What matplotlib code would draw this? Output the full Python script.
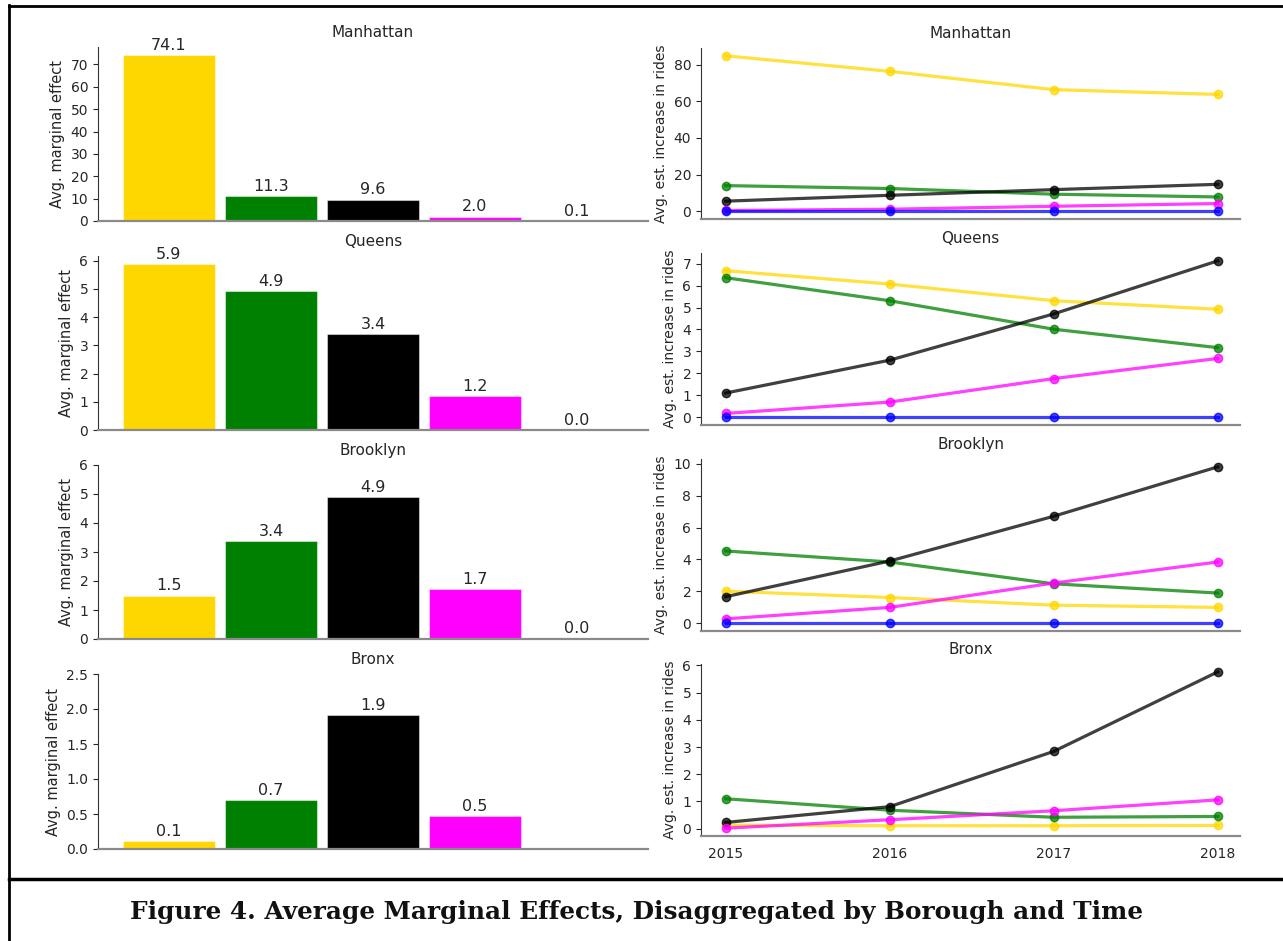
import numpy as np
import matplotlib
matplotlib.use("Agg")
import matplotlib.pyplot as plt
from matplotlib.lines import Line2D
from matplotlib.ticker import MultipleLocator

# ---------------- data ----------------
boroughs = ["Manhattan", "Queens", "Brooklyn", "Bronx"]
series_colors = ["#FFD700", "#008000", "#000000", "#FF00FF", "#0000FF"]

# Average marginal effect per category (bars)
bar_manhattan = [74.1, 11.3, 9.6, 2.0, 0.1]
bar_queens = [5.87, 4.93, 3.41, 1.19, 0.0]
bar_brooklyn = [1.50, 3.38, 4.90, 1.71, 0.02]
bar_bronx = [0.11, 0.70, 1.91, 0.47, np.nan]
bar_ylim_top = [77.8, 6.16, 6.0, 2.5]
bar_tick_step = [10, 1, 1, 0.5]

years = [2015, 2016, 2017, 2018]
# Avg. est. increase in rides, per series (gold, green, black, magenta, blue)
line_manhattan = [
    [84.9, 76.4, 66.4, 63.8],
    [14.0, 12.4, 9.3, 7.8],
    [5.5, 8.7, 11.8, 14.7],
    [0.4, 1.1, 2.7, 4.2],
    [0.0, 0.0, 0.0, 0.0],
]
line_queens = [
    [6.68, 6.07, 5.31, 4.92],
    [6.36, 5.31, 4.01, 3.17],
    [1.10, 2.60, 4.71, 7.13],
    [0.17, 0.69, 1.76, 2.68],
    [0.0, 0.0, 0.0, 0.0],
]
line_brooklyn = [
    [2.01, 1.61, 1.13, 0.99],
    [4.53, 3.84, 2.47, 1.89],
    [1.66, 3.90, 6.71, 9.81],
    [0.27, 0.99, 2.52, 3.84],
    [0.0, 0.0, 0.0, 0.0],
]
line_bronx = [
    [0.13, 0.11, 0.11, 0.12],
    [1.10, 0.68, 0.42, 0.45],
    [0.23, 0.81, 2.84, 5.76],
    [0.02, 0.33, 0.66, 1.06],
    [np.nan, np.nan, np.nan, np.nan],
]
line_tick_step = [20, 1, 2, 1]

bars_all = [bar_manhattan, bar_queens, bar_brooklyn, bar_bronx]
lines_all = [line_manhattan, line_queens, line_brooklyn, line_bronx]

caption = "Figure 4. Average Marginal Effects, Disaggregated by Borough and Time"

# ---------------- layout (pixels) ----------------
W, H = 1283, 941
left_x = (98, 648)
right_x = (701, 1240)
left_rows = [(47, 221), (256, 430), (465, 639), (674, 849)]
right_rows = [(48, 219), (253, 425), (459, 631), (664, 836)]

plt.rcParams["font.family"] = ["DejaVu Sans"]
fig = plt.figure(figsize=(W / 100, H / 100), dpi=100)
fig.patch.set_facecolor("white")

def ax_at(xr, yr):
    return fig.add_axes([xr[0] / W, 1 - yr[1] / H, (xr[1] - xr[0]) / W, (yr[1] - yr[0]) / H])

tick_color = "#262626"

def style(ax):
    ax.spines["top"].set_visible(False)
    ax.spines["right"].set_visible(False)
    ax.spines["left"].set_color("#333333")
    ax.spines["left"].set_linewidth(0.8)
    ax.spines["bottom"].set_color("#8a8a8a")
    ax.spines["bottom"].set_linewidth(1.6)
    ax.tick_params(axis="y", labelsize=10, colors=tick_color, length=3.5, width=0.8)
    ax.set_facecolor("white")

for i, name in enumerate(boroughs):
    # bar chart
    ax = ax_at(left_x, left_rows[i])
    style(ax)
    vals = bars_all[i]
    xs = np.arange(len(vals))
    plot_vals = [0 if np.isnan(v) else v for v in vals]
    ax.bar(xs, plot_vals, width=0.9, color=series_colors,
           edgecolor=(1, 1, 1, 0.45), linewidth=0.8)
    for x, v in zip(xs, vals):
        if not np.isnan(v):
            ax.annotate(f"{v:.1f}", (x, v), xytext=(0, 1.5), textcoords="offset points",
                        ha="center", va="bottom", fontsize=11.5, color=tick_color)
    ax.set_ylim(0, bar_ylim_top[i])
    ax.yaxis.set_major_locator(MultipleLocator(bar_tick_step[i]))
    ax.set_xticks([])
    ax.set_ylabel("Avg. marginal effect", fontsize=10.5, color=tick_color)
    ax.set_title(name, fontsize=11, color=tick_color, pad=7)

    # line chart
    ax2 = ax_at(right_x, right_rows[i])
    style(ax2)
    for s, c in zip(lines_all[i], series_colors):
        ax2.plot(years, s, color=c, alpha=0.75, lw=2.3, marker="o", markersize=6)
    ax2.set_xticks(years)
    ax2.set_xlim(years[0] - 0.15, years[-1] + 0.135)
    ax2.yaxis.set_major_locator(MultipleLocator(line_tick_step[i]))
    if i == len(boroughs) - 1:
        ax2.tick_params(axis="x", labelsize=10, colors=tick_color, length=0, pad=8)
    else:
        ax2.tick_params(axis="x", labelbottom=False, length=0)
    ax2.set_ylabel("Avg. est. increase in rides", fontsize=10, color=tick_color)
    ax2.set_title(name, fontsize=11, color=tick_color, pad=7)

# frame lines
fig.add_artist(Line2D([8.5 / W, 8.5 / W], [0, 1 - 5 / H], transform=fig.transFigure,
                      color="black", lw=2))
fig.add_artist(Line2D([8.5 / W, 1], [1 - 5.5 / H, 1 - 5.5 / H], transform=fig.transFigure,
                      color="black", lw=2))
fig.add_artist(Line2D([8.5 / W, 1], [1 - 879 / H, 1 - 879 / H], transform=fig.transFigure,
                      color="black", lw=2.5))

fig.text(636 / W, 1 - 912 / H, caption, ha="center", va="center",
         fontsize=17.8, fontweight="bold", family=["DejaVu Serif"], color="#111111")

fig.savefig("out.png", dpi=100, facecolor="white")
